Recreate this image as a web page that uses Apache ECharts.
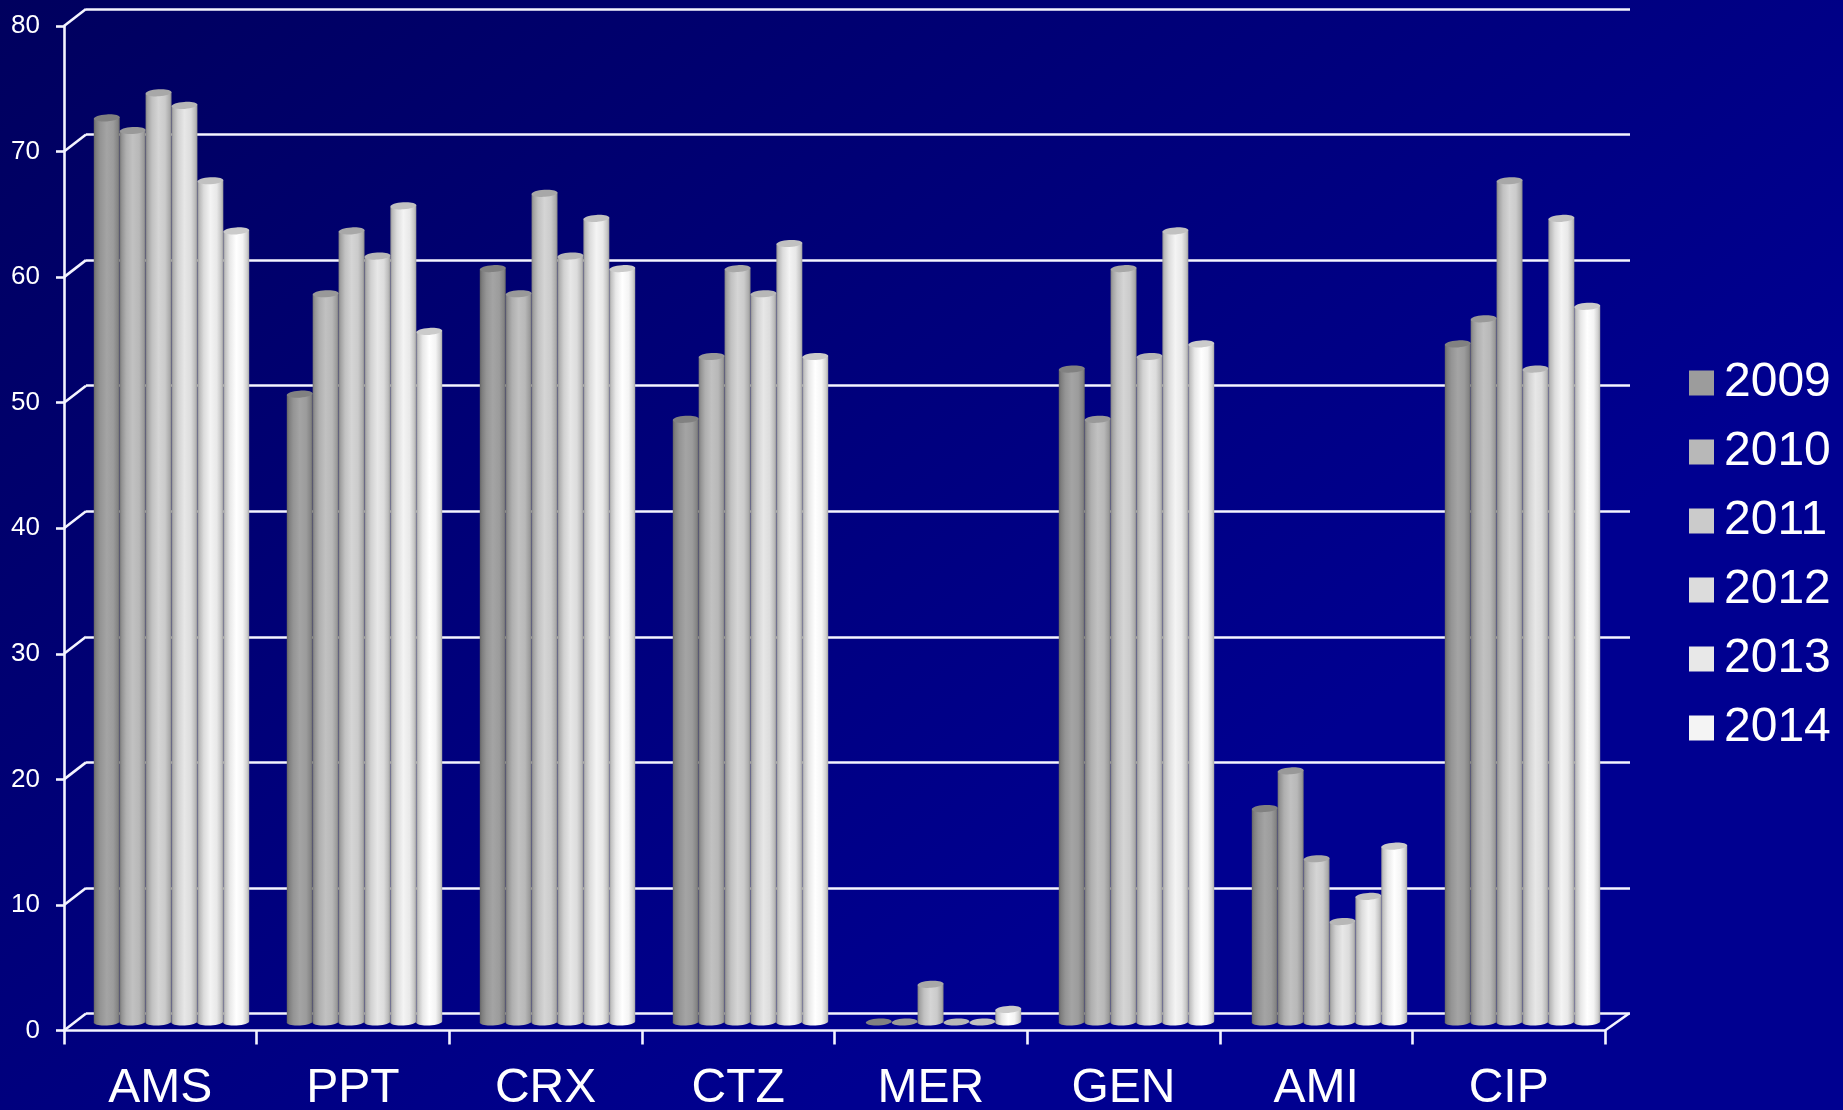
<!DOCTYPE html>
<html>
<head>
<meta charset="utf-8">
<title>Percentuali per anno</title>
<style>
html,body{margin:0;padding:0;width:100%;height:100%;overflow:hidden;background:#00007a}
#chart{width:1843px;height:1110px}
</style>
<script src="https://cdn.jsdelivr.net/npm/echarts@6/dist/echarts.min.js"></script>
</head>
<body>
<div id="chart"></div>
<script>
const categories = ['AMS','PPT','CRX','CTZ','MER','GEN','AMI','CIP'];
const years = ['2009','2010','2011','2012','2013','2014'];
const values2009 = [72,50,60,48,0,52,17,54];
const values2010 = [71,58,58,53,0,48,20,56];
const values2011 = [74,63,66,60,3,60,13,67];
const values2012 = [73,61,61,58,0,53,8,52];
const values2013 = [67,65,64,62,0,63,10,64];
const values2014 = [63,55,60,53,1,54,14,57];
const yearValues = [values2009,values2010,values2011,values2012,values2013,values2014];
const yearColors = ['#9c9c9c','#b8b8b8','#cbcbcb','#dcdcdc','#e8e8e8','#f4f4f4'];
const wallTicks = [0,10,20,30,40,50,60,70,80];

// Pseudo-3D depth of the chart box, in pixels.
const DEPTH_X = 22, DEPTH_Y = -17;
const FONT = '"Liberation Sans", Arial, sans-serif';
const LINE = '#f4f4ff';

function shade(hex, k) {
  const n = parseInt(hex.slice(1), 16);
  const c = s => Math.min(255, Math.round(((n >> s) & 255) * k));
  return `rgb(${c(16)},${c(8)},${c(0)})`;
}

function cylinderFill(color) {
  return {
    type: 'linear', x: 0, y: 0, x2: 1, y2: 0,
    colorStops: [
      {offset: 0, color: shade(color, 0.64)},
      {offset: 0.08, color: shade(color, 0.8)},
      {offset: 0.25, color: shade(color, 0.95)},
      {offset: 0.5, color: shade(color, 1.05)},
      {offset: 0.75, color: shade(color, 1.0)},
      {offset: 0.92, color: shade(color, 0.85)},
      {offset: 1, color: shade(color, 0.68)}
    ]
  };
}

// One cylinder: body and rounded foot shaded across, flat lid on top,
// all leaning slightly as in a tilted perspective view.
function renderCylinder(index) {
  return function (params, api) {
    const cat = api.value(0), val = api.value(1);
    const slot = api.size([1, 0])[0] * 0.1342;
    const centre = api.coord([cat, 0])[0] + (index - 2.5) * slot;
    const baseY = api.coord([cat, 0])[1];
    const topY = api.coord([cat, val])[1];
    const rx = slot / 2, ry = 3.5, tilt = 0.065, lean = rx * Math.sin(tilt);
    const color = yearColors[index];
    const children = [];
    if (val > 0) {
      children.push({type: 'ellipse', rotation: tilt, originX: centre, originY: baseY,
        shape: {cx: centre, cy: baseY, rx: rx, ry: ry},
        style: {fill: cylinderFill(color)}});
      children.push({type: 'polygon',
        shape: {points: [
          [centre - rx, topY + lean], [centre + rx, topY - lean],
          [centre + rx, baseY - lean], [centre - rx, baseY + lean]
        ]},
        style: {fill: cylinderFill(color)}});
    }
    children.push({type: 'ellipse', rotation: tilt, originX: centre, originY: topY,
      shape: {cx: centre, cy: topY, rx: rx, ry: ry},
      style: {fill: shade(color, 0.83)}});
    return {type: 'group', children: children};
  };
}

// Slanted joins between the front axes and the back wall.
function renderJoin(params, api) {
  const rect = params.coordSys;
  const y = api.coord([0, api.value(0)])[1];
  const lines = [{x1: rect.x, y1: y, x2: rect.x + DEPTH_X, y2: y + DEPTH_Y}];
  if (api.value(0) === 0) {
    lines.push({x1: rect.x + rect.width, y1: y, x2: rect.x + rect.width + DEPTH_X + 2, y2: y + DEPTH_Y});
  }
  return {type: 'group', children: lines.map(shape => ({
    type: 'line', shape: shape, style: {stroke: LINE, lineWidth: 2.6}
  }))};
}

const front = {left: 64, top: 26, width: 1541, height: 1004.5, outerBoundsMode: 'none'};
const back = {left: 86, top: 9, width: 1544, height: 1004.5, outerBoundsMode: 'none'};
const middle = {left: 75, top: 17.5, width: 1544, height: 1004.5, outerBoundsMode: 'none'};

const chart = echarts.init(document.getElementById('chart'), null, {renderer: 'canvas'});
chart.setOption({
  animation: false,
  backgroundColor: {
    type: 'linear', x: 0, y: 0, x2: 0.45, y2: 1,
    colorStops: [{offset: 0, color: '#00005e'}, {offset: 1, color: '#000090'}]
  },
  textStyle: {fontFamily: FONT},
  grid: [front, back, middle],
  xAxis: [
    {
      gridIndex: 0, type: 'category', data: categories,
      axisLine: {onZero: false, lineStyle: {color: LINE, width: 2.6}},
      axisTick: {show: true, alignWithLabel: false, length: 14, lineStyle: {color: LINE, width: 2.6}},
      axisLabel: {color: '#ffffff', fontSize: 48, fontFamily: FONT, margin: 34, interval: 0, hideOverlap: false}
    },
    {gridIndex: 1, type: 'category', data: categories, show: false},
    {gridIndex: 2, type: 'category', data: categories, show: false}
  ],
  yAxis: [
    {
      gridIndex: 0, type: 'value', min: 0, max: 80, interval: 10,
      axisLine: {show: true, lineStyle: {color: LINE, width: 2.6}},
      axisTick: {show: true, length: 8, lineStyle: {color: LINE, width: 2.6}},
      axisLabel: {color: '#ffffff', fontSize: 26, fontFamily: FONT, margin: 24},
      splitLine: {show: false}
    },
    {
      gridIndex: 1, type: 'value', min: 0, max: 80, interval: 10,
      axisLine: {show: false}, axisTick: {show: false}, axisLabel: {show: false},
      splitLine: {show: true, lineStyle: {color: LINE, width: 2.6}}
    },
    {
      gridIndex: 2, type: 'value', min: 0, max: 80, interval: 10, show: false,
      splitLine: {show: false}
    }
  ],
  legend: {
    show: true, orient: 'vertical', left: 1689, top: 359, padding: 0,
    icon: 'rect', itemWidth: 25, itemHeight: 25, itemGap: 21,
    data: years, selectedMode: false,
    textStyle: {color: '#ffffff', fontSize: 48, fontFamily: FONT, padding: [0, 0, 0, 5]}
  },
  series: [
    {
      type: 'custom', name: 'wall', xAxisIndex: 0, yAxisIndex: 0, z: 1,
      silent: true, clip: false,
      encode: {y: 0},
      data: wallTicks.map(v => [v]),
      renderItem: renderJoin
    }
  ].concat(years.map((year, i) => ({
    type: 'custom', name: year, xAxisIndex: 2, yAxisIndex: 2, z: 3 + i,
    clip: false,
    itemStyle: {color: yearColors[i]},
    encode: {x: 0, y: 1},
    data: yearValues[i].map((v, c) => [c, v]),
    renderItem: renderCylinder(i)
  })))
});
</script>
</body>
</html>
